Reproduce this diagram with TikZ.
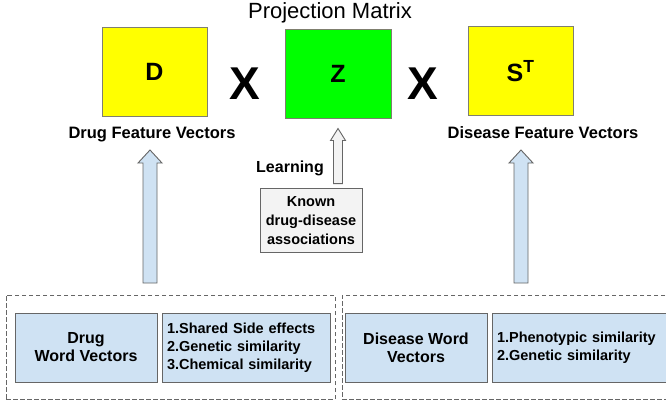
\documentclass[tikz,border=0pt]{standalone}
\usepackage{fontspec}
\setmainfont{Liberation Sans}
\usetikzlibrary{calc}
\definecolor{ybox}{HTML}{FFFF00}
\definecolor{gbox}{HTML}{00FF00}
\definecolor{lblue}{HTML}{CFE2F3}
\definecolor{lgrey}{HTML}{F3F3F3}
\definecolor{edge}{HTML}{666666}
\definecolor{matedge}{HTML}{7F7F6F}
\newcommand{\blockarr}[6]{%
  \draw[#1] ($(#2)+(-#4,0)$) -- ($(#3)+(-#4,#6)$) -- ($(#3)+(-#5,#6)$) -- (#3)
    -- ($(#3)+(#5,#6)$) -- ($(#3)+(#4,#6)$) -- ($(#2)+(#4,0)$) -- cycle;}
\begin{document}
\begin{tikzpicture}[x=1pt,y=-1pt,
  matbox/.style={draw=matedge, line width=1pt, minimum width=105pt, minimum height=89pt,
    inner sep=0pt, font=\fontsize{25}{29}\selectfont\bfseries},
  timesx/.style={inner sep=0pt, font=\fontsize{46}{50}\selectfont\bfseries},
  flabel/.style={inner sep=0pt, font=\fontsize{16.5}{19}\selectfont\bfseries},
  dashbox/.style={draw=edge, line width=0.9pt, dash pattern=on 4.5pt off 2.5pt, inner sep=0pt},
  wordbox/.style={draw=edge, line width=0.9pt, fill=lblue, inner sep=0pt, align=center,
    font=\fontsize{16}{18}\selectfont\bfseries},
  listbox/.style={draw=edge, line width=0.9pt, fill=lblue, inner xsep=5pt, inner ysep=0pt, align=left,
    font=\fontsize{14.5}{18}\selectfont\bfseries},
  knownbox/.style={draw=edge, line width=0.9pt, fill=lgrey, inner sep=0pt, align=center,
    font=\fontsize{14.5}{19}\selectfont\bfseries},
  bluearrow/.style={draw=edge, line width=0.9pt, fill=lblue, line join=miter},
  greyarrow/.style={draw=edge, line width=0.9pt, fill=lgrey, line join=miter}]
\clip (0,0) rectangle (666,402);
\fill[white] (0,0) rectangle (666,402);

% top row: matrices
\node[inner sep=0pt, font=\fontsize{22}{26}\selectfont] (proj) at (330,13) {Projection Matrix};
\node[matbox, fill=ybox] (D) at (154.5,71.5) {D};
\node[timesx] (x1) at (245,84) {X};
\node[matbox, fill=gbox, minimum width=106pt] (Z) at (338,73.5) {Z};
\node[timesx] (x2) at (423,84) {X};
\node[matbox, fill=ybox] (S) at (520.5,71) {S\textsuperscript{T}};

\node[flabel] (dfv) at (152,135) {Drug Feature Vectors};
\node[flabel] (sfv) at (543,133) {Disease Feature Vectors};

% known associations
\node[knownbox, minimum width=102pt, minimum height=64pt] (known) at (311,220.5)
  {Known\\drug-disease\\associations};
\node[inner sep=0pt, font=\fontsize{16}{19}\selectfont\bfseries] (learn) at (290,168) {Learning};

% bottom dashed groups
\node[dashbox, minimum width=329pt, minimum height=104pt] (gdrug) at (170.5,347) {};
\node[dashbox, minimum width=330pt, minimum height=104pt] (gdis) at (507,347) {};

\node[wordbox, minimum width=142pt, minimum height=69pt] (dwv) at (86,347.5) {Drug\\Word Vectors};
\node[listbox, minimum width=168pt, minimum height=69pt, text width=158pt] (dlist) at (246,347.5)
  {1.Shared Side effects\\2.Genetic similarity\\3.Chemical similarity};
\node[wordbox, minimum width=142pt, minimum height=69pt] (swv) at (416,347.5) {Disease Word\\Vectors};
\node[listbox, minimum width=176pt, minimum height=69pt, text width=166pt] (slist) at (580,347.5)
  {1.Phenotypic similarity\\2.Genetic similarity};

% block arrows
\coordinate (la-base) at (150,283);
\coordinate (la-tip) at (150,150);
\coordinate (ra-base) at (521,283);
\coordinate (ra-tip) at (521,150);
\coordinate (ka-base) at ($(known.north)+(27,-4.5)$);
\coordinate (ka-tip) at ($(Z.south)+(0,10)$);
\blockarr{bluearrow}{la-base}{la-tip}{7}{12}{13}
\blockarr{bluearrow}{ra-base}{ra-tip}{7}{12}{13}
\blockarr{greyarrow}{ka-base}{ka-tip}{4.5}{7.5}{12}
\end{tikzpicture}
\end{document}
